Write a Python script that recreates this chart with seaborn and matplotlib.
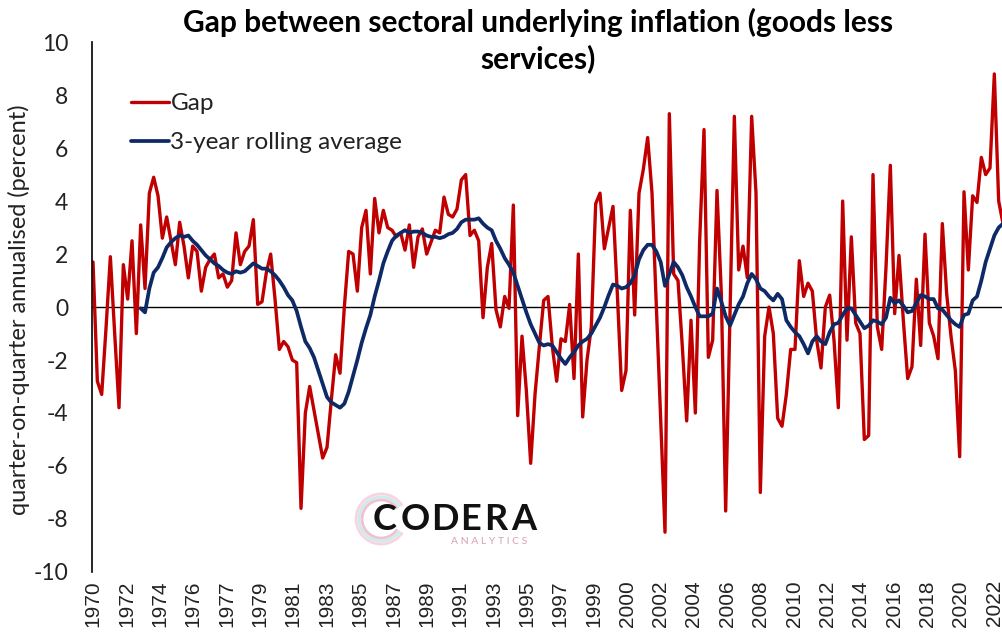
import numpy as np
import pandas as pd
import matplotlib
matplotlib.use("Agg")
import matplotlib.pyplot as plt
from matplotlib.patches import Arc
import seaborn as sns

# ---------------- data ----------------
start_year = 1970
gap = [
    1.7, -2.8, -3.3, -0.8, 1.9, -1.0, -3.8, 1.6, 0.3, 2.5,
    -1.0, 3.1, 0.7, 4.3, 4.9, 4.2, 2.6, 3.4, 2.5, 1.6,
    3.2, 2.3, 1.1, 2.3, 2.1, 0.6, 1.5, 1.8, 2.0, 1.1,
    1.25, 0.75, 1.0, 2.8, 1.6, 2.1, 2.3, 3.3, 0.1, 0.2,
    1.3, 2.0, 0.3, -1.6, -1.3, -1.5, -2.0, -2.1, -7.6, -4.0,
    -3.0, -3.9, -4.8, -5.7, -5.3, -3.5, -1.8, -2.5, 0.0, 2.1,
    2.0, 0.6, 3.0, 3.65, 1.25, 4.1, 2.8, 3.65, 3.0, 2.9,
    2.65, 2.8, 2.15, 3.1, 1.5, 2.65, 2.95, 2.0, 2.45, 2.9,
    2.8, 4.15, 3.5, 3.4, 3.7, 4.8, 5.0, 2.7, 2.9, 2.5,
    -0.4, 1.5, 2.4, -0.1, -0.75, 0.4, -0.05, 3.85, -4.1, -1.1,
    -3.15, -5.9, -3.3, -1.5, 0.25, 0.4, -1.5, -2.8, -1.2, -1.3,
    0.1, -2.7, 2.0, -4.15, -2.0, -0.75, 3.9, 4.3, 2.2, 3.0,
    3.8, 0.5, -3.15, -2.4, 3.65, -0.3, 4.3, 5.2, 6.4, 4.3,
    0.0, -4.3, -8.5, 7.3, 1.25, 1.0, -1.5, -4.3, -0.5, -4.0,
    2.5, 6.7, -1.9, -1.25, 4.4, 0.5, -7.7, -0.2, 7.2, 1.4,
    2.3, 1.1, 7.2, 4.3, -7.0, -1.1, 0.0, -1.0, -4.2, -4.5,
    -3.3, -1.6, -1.6, 1.75, 0.4, 0.9, 0.6, -1.25, -2.3, 0.0,
    0.45, -1.25, -3.8, 4.0, -1.25, 2.65, -0.6, -1.0, -5.0, -4.85,
    5.0, -0.75, -1.6, 1.5, 5.35, -0.25, 1.95, -0.5, -2.7, -2.25,
    1.05, -1.45, 2.75, -0.6, -1.1, -1.95, 3.15, 0.5, -1.1, -2.4,
    -5.65, 4.35, 1.4, 4.2, 3.95, 5.65, 5.0, 5.25, 8.8, 4.0, 3.15,
]
# 3-year rolling average starts with the 12th quarter
rolling_start = 11
rolling = [
    -0.05, -0.2, 0.7, 1.3, 1.5, 1.85, 2.25, 2.45, 2.6, 2.7,
    2.65, 2.7, 2.5, 2.35, 2.15, 1.95, 1.8, 1.65, 1.55, 1.4,
    1.3, 1.25, 1.35, 1.3, 1.35, 1.5, 1.65, 1.55, 1.45, 1.45,
    1.35, 1.2, 1.0, 0.75, 0.45, 0.25, -0.15, -0.75, -1.3, -1.55,
    -1.9, -2.4, -2.9, -3.4, -3.6, -3.7, -3.8, -3.65, -3.2, -2.6,
    -2.0, -1.35, -0.8, -0.3, 0.4, 1.0, 1.65, 2.1, 2.5, 2.7,
    2.8, 2.9, 2.8, 2.85, 2.85, 2.8, 2.7, 2.65, 2.65, 2.6,
    2.65, 2.75, 2.8, 2.95, 3.2, 3.3, 3.3, 3.3, 3.35, 3.15,
    3.0, 2.9, 2.5, 2.2, 1.85, 1.6, 1.3, 0.8, 0.3, -0.2,
    -0.65, -1.0, -1.35, -1.45, -1.4, -1.45, -1.7, -1.95, -2.15, -1.9,
    -1.7, -1.45, -1.3, -1.2, -1.0, -0.7, -0.4, 0.0, 0.45, 0.85,
    0.8, 0.7, 0.75, 0.9, 1.2, 1.8, 2.15, 2.35, 2.35, 2.1,
    1.7, 0.8, 1.25, 1.7, 1.5, 1.2, 0.75, 0.4, 0.0, -0.35,
    -0.35, -0.35, -0.25, 0.7, 0.2, -0.35, -0.7, -0.3, 0.1, 0.4,
    0.9, 1.25, 1.05, 0.7, 0.6, 0.4, 0.25, 0.5, 0.3, -0.5,
    -0.75, -0.95, -1.1, -1.4, -1.75, -1.3, -1.1, -1.3, -1.4, -0.95,
    -0.65, -0.6, -0.3, -0.05, -0.05, -0.3, -0.55, -0.8, -0.7, -0.5,
    -0.55, -0.65, -0.4, 0.35, 0.15, 0.25, 0.05, -0.2, -0.15, 0.15,
    0.45, 0.4, 0.3, 0.3, -0.05, -0.1, -0.3, -0.5, -0.65, -0.75,
    -0.3, -0.25, 0.25, 0.4, 1.0, 1.7, 2.2, 2.7, 3.0, 3.15,
]
tick_labels = ["1970", "1972", "1974", "1976", "1977", "1979", "1981", "1983",
               "1985", "1987", "1989", "1991", "1993", "1995", "1997", "1999",
               "2000", "2002", "2004", "2006", "2008", "2010", "2012", "2014",
               "2016", "2018", "2020", "2022"]
y_ticks = [10, 8, 6, 4, 2, 0, -2, -4, -6, -8, -10]

# ---------------- frame ----------------
quarters = start_year + np.arange(len(gap)) / 4.0
df_gap = pd.DataFrame({"t": quarters, "v": gap})
df_roll = pd.DataFrame({"t": quarters[rolling_start:rolling_start + len(rolling)],
                        "v": rolling})

sns.set_theme(style="white")
plt.rcParams["font.family"] = ["Lato", "DejaVu Sans"]

RED = "#C00000"
NAVY = "#0E2A66"
TXT = "#222222"

fig = plt.figure(figsize=(10.03, 6.39), dpi=100)
ax = fig.add_axes([0.0917, 0.105, 0.9083, 0.829])

sns.lineplot(data=df_gap, x="t", y="v", ax=ax, color=RED, lw=2.4, label="Gap")
sns.lineplot(data=df_roll, x="t", y="v", ax=ax, color=NAVY, lw=2.7,
             label="3-year rolling average")
ax.axhline(0, color="black", lw=1.0, zorder=1)

ax.set_ylim(-10, 10)
ax.set_xlim(start_year - 0.06, start_year + (len(gap) - 1) / 4.0)
ax.set_yticks(y_ticks)
ax.set_yticklabels([str(v) for v in y_ticks], fontsize=16.5, color=TXT)
tick_pos = start_year + np.arange(len(tick_labels)) * (52.0 / 27.0)
ax.set_xticks(tick_pos)
ax.set_xticklabels(tick_labels, rotation=90, fontsize=15,
                   family=["Liberation Sans", "DejaVu Sans"], color=TXT)
ax.tick_params(axis="y", length=0, pad=17)
ax.tick_params(axis="x", length=0, pad=6)
ax.set_xlabel("")
ax.set_ylabel("")

for s in ["top", "right", "bottom"]:
    ax.spines[s].set_visible(False)
ax.spines["left"].set_color("black")
ax.spines["left"].set_linewidth(1.2)

leg = ax.legend(loc="upper left", bbox_to_anchor=(0.032, 0.922), frameon=False,
                fontsize=17.5, handlelength=1.55, handletextpad=0.08,
                labelspacing=0.75, borderaxespad=0)
for t in leg.get_texts():
    t.set_color(TXT)

fig.text(0.536, 0.988,
         "Gap between sectoral underlying inflation (goods less\nservices)",
         ha="center", va="top", fontsize=21.5, fontweight="bold",
         linespacing=1.3, color="black")
fig.text(0.019, 0.515, "quarter-on-quarter annualised (percent)", rotation=90,
         ha="center", va="center", fontsize=17, color=TXT)

# logo watermark
logo_letters = ["C", "O", "D", "E", "R", "A"]
logo_x_px = [385, 415, 445, 471, 496, 524]
for ch, xp in zip(logo_letters, logo_x_px):
    fig.text(xp / 1003, 1 - 519 / 639, ch, ha="center", va="center",
             fontsize=26, fontweight="bold", color="#111111")
fig.text(0.488, 1 - 541 / 639, "A N A L Y T I C S", ha="center", va="center",
         fontsize=7.5, color="#d9a0b0")
for w, c in [(0.050, "#f4c4d0"), (0.044, "#b8e2e4"), (0.038, "#eaa8bb")]:
    fig.patches.append(Arc((0.38, 1 - 519 / 639), w, w * 1003 / 639,
                           theta1=45, theta2=315, transform=fig.transFigure,
                           color=c, lw=2.0, alpha=0.7))

fig.savefig("out.png", dpi=100)
